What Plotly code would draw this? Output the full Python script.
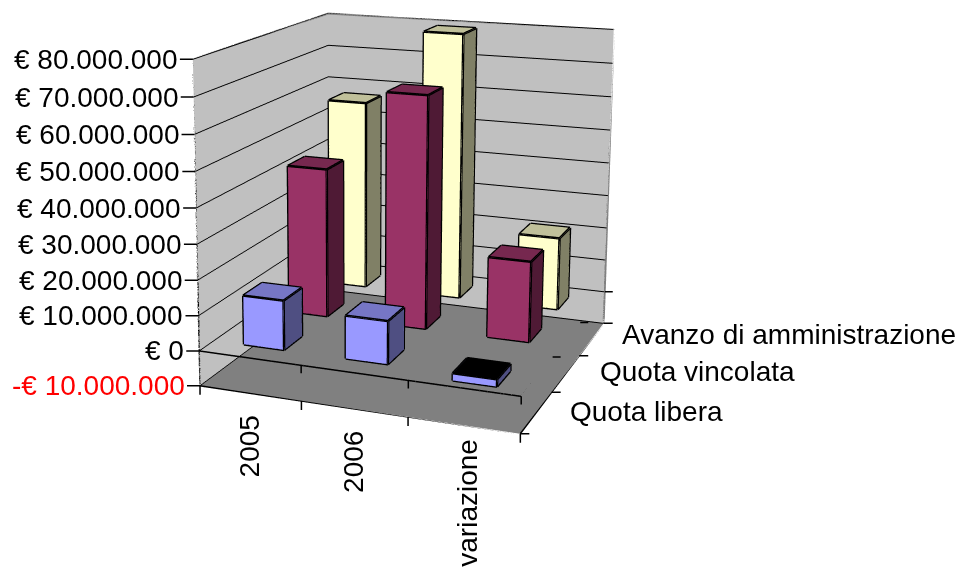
import plotly.graph_objects as go

categories = ["2005", "2006", "variazione"]
series_names = ["Quota libera", "Quota vincolata", "Avanzo di amministrazione"]
quota_libera = [14000000, 12000000, -2000000]
quota_vincolata = [43500000, 67000000, 23000000]
avanzo = [57000000, 79500000, 21500000]
z_ticks = [-10000000, 0, 10000000, 20000000, 30000000, 40000000, 50000000, 60000000, 70000000, 80000000]
z_labels = ["-€ 10.000.000", "€ 0", "€ 10.000.000", "€ 20.000.000", "€ 30.000.000", "€ 40.000.000",
            "€ 50.000.000", "€ 60.000.000", "€ 70.000.000", "€ 80.000.000"]

# The reference's long-lens, off-centre view: plotly's fixed 45 degree field of view
# reaches that focal length only on a tall scene, which the page then slides up.
FIG_W, FIG_H = 956, 1341
PAGE_TOP = -532
CENTRE_X = 355.05
EYE = (1.6051, -4.5435, 1.2568)
CENTER = (-0.1206, -0.1879, 0.2267)
UP = (0.0004, 0.0164, 1.0)
ASPECT = (0.9829, 1.0, 0.9811)

X_R, Y_R, Z_R = [-0.5, 2.5], [-0.5, 2.5], [z_ticks[0], z_ticks[-1]]
W_BAR = 0.2
FACE = {0: ("#9999FF", "#7676C5", "#4F4F82"), 1: ("#993366", "#76284F", "#4F1A35"), 2: ("#FFFFCC", "#C0C09A", "#808066")}

fig = go.Figure()
columns = [quota_libera, quota_vincolata, avanzo]
ex, ey, ez = [], [], []
for si, col in enumerate(columns):
    for ci, v in enumerate(col):
        x0, x1, y0, y1 = ci - W_BAR, ci + W_BAR, si - W_BAR, si + W_BAR
        xs = [x0, x1, x1, x0, x0, x1, x1, x0]
        ys = [y0, y0, y1, y1, y0, y0, y1, y1]
        zs = [0, 0, 0, 0, v, v, v, v]
        fr, tp, sd = FACE[si]
        if v < 0:
            tp = "#000000"
        tri = [(0,1,5),(0,5,4),(1,2,6),(1,6,5),(2,3,7),(2,7,6),(3,0,4),(3,4,7),(4,5,6),(4,6,7),(0,1,2),(0,2,3)]
        cols = [fr, fr, sd, sd, fr, fr, sd, sd, tp, tp, tp, tp]
        fig.add_trace(go.Mesh3d(x=xs, y=ys, z=zs, i=[t[0] for t in tri], j=[t[1] for t in tri], k=[t[2] for t in tri],
                                facecolor=cols, flatshading=True, hoverinfo="skip", showscale=False,
                                lighting=dict(ambient=1, diffuse=0, specular=0, roughness=1, fresnel=0)))
        for a, b in [(0,1),(1,2),(2,3),(3,0),(4,5),(5,6),(6,7),(7,4),(0,4),(1,5),(2,6),(3,7)]:
            ex += [xs[a], xs[b], None]
            ey += [ys[a], ys[b], None]
            ez += [zs[a], zs[b], None]
fig.add_trace(go.Scatter3d(x=ex, y=ey, z=ez, mode="lines", line=dict(color="black", width=5), hoverinfo="skip", showlegend=False))
fig.add_trace(go.Scatter3d(x=[X_R[0], X_R[1], X_R[1]], y=[Y_R[0], Y_R[0], Y_R[1]], z=[0, 0, 0], mode="lines",
                           line=dict(color="black", width=3), hoverinfo="skip", showlegend=False))
fig.add_trace(go.Scatter3d(x=[X_R[0], X_R[0], X_R[1], X_R[1]], y=[Y_R[0], Y_R[1], Y_R[1], Y_R[1]],
                           z=[Z_R[1], Z_R[1], Z_R[1], Z_R[0]], mode="lines", line=dict(color="#808080", width=4),
                           hoverinfo="skip", showlegend=False))
fig.add_trace(go.Scatter3d(x=[X_R[0], X_R[0], X_R[1], X_R[1]], y=[Y_R[0], Y_R[0], Y_R[0], Y_R[1]],
                           z=[Z_R[1], Z_R[0], Z_R[0], Z_R[0]], mode="lines", line=dict(color="black", width=3),
                           hoverinfo="skip", showlegend=False))

FONT = dict(family="Liberation Sans, Arial, sans-serif", size=28, color="black")
TICK = dict(text=".", showarrow=True, arrowhead=0, arrowwidth=1.5, arrowcolor="black",
            font=dict(size=1, color="rgba(0,0,0,0)"))
CAT_SHIFT = [(-1, -20), (0, -20), (4, -11)]
SER_SHIFT = [(31, 1), (32, 2), (28, 5)]
ann = []
for v, l in zip(z_ticks, z_labels):
    f = dict(FONT)
    if v < 0:
        f["color"] = "#FF0000"
    ann.append(dict(x=X_R[0], y=Y_R[0], z=v, text=l, showarrow=True, arrowhead=0, arrowwidth=1.5, arrowcolor="black",
                    ax=-13, ay=0, xanchor="right", yanchor="middle", font=f))
for i in range(4):
    ann.append(dict(x=i - 0.5, y=Y_R[0], z=Z_R[0], ax=0, ay=11, **TICK))
    ann.append(dict(x=X_R[1], y=i - 0.5, z=Z_R[0], ax=11, ay=0, **TICK))
    if 0 < i:
        ann.append(dict(x=i - 0.5, y=Y_R[0], z=0, ax=0, ay=10, **TICK))
        ann.append(dict(x=X_R[1], y=i - 0.5, z=0, ax=10, ay=0, **TICK))
for i, c in enumerate(categories):
    ann.append(dict(x=i, y=Y_R[0], z=Z_R[0], text=c, textangle=-90, showarrow=False, xanchor="center", yanchor="top",
                    xshift=CAT_SHIFT[i][0], yshift=CAT_SHIFT[i][1], font=FONT))
for i, s in enumerate(series_names):
    ann.append(dict(x=X_R[1], y=i, z=Z_R[0], text=s, showarrow=False, xanchor="left", yanchor="middle",
                    xshift=SER_SHIFT[i][0], yshift=SER_SHIFT[i][1], font=FONT))

ax_common = dict(showticklabels=False, ticks="", title="", zeroline=False, showspikes=False, showline=False)
fig.update_layout(width=FIG_W, height=FIG_H, margin=dict(l=0, r=0, t=0, b=0), paper_bgcolor="white", showlegend=False,
    scene=dict(domain=dict(x=[0, 2 * CENTRE_X / FIG_W], y=[0, 1]), aspectmode="manual",
               aspectratio=dict(x=ASPECT[0], y=ASPECT[1], z=ASPECT[2]),
               camera=dict(eye=dict(x=EYE[0], y=EYE[1], z=EYE[2]), center=dict(x=CENTER[0], y=CENTER[1], z=CENTER[2]),
                           up=dict(x=UP[0], y=UP[1], z=UP[2]), projection=dict(type="perspective")),
               xaxis=dict(range=X_R, showgrid=False, showbackground=True, backgroundcolor="#C0C0C0", **ax_common),
               yaxis=dict(range=Y_R, showgrid=False, showbackground=True, backgroundcolor="#C0C0C0", **ax_common),
               zaxis=dict(range=Z_R, tickvals=z_ticks, showgrid=True, gridcolor="black", gridwidth=2,
                          showbackground=True, backgroundcolor="#808080", **ax_common),
               annotations=ann))
slide = ("document.documentElement.style.overflow='hidden';document.body.style.overflow='hidden';"
         "document.body.style.margin='0';document.getElementById('{plot_id}').style.marginTop='%dpx';" % PAGE_TOP)
fig.write_html("out.html", post_script=slide, config=dict(displayModeBar=False))
